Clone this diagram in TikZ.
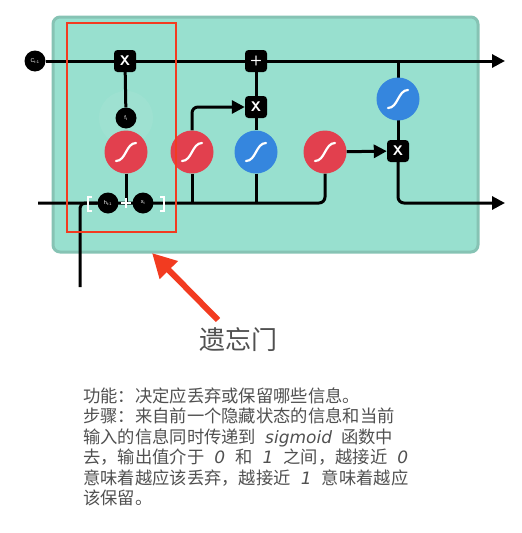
\documentclass[tikz,border=0pt]{standalone}
\usepackage{fontspec}
\setmainfont{Liberation Sans}
\newfontfamily\cjk{Noto Sans CJK SC}
\newfontfamily\hand{DejaVu Sans}
\usetikzlibrary{arrows.meta}
\pgfdeclarelayer{back}
\pgfdeclarelayer{lines}
\pgfsetlayers{back,lines,main}
\definecolor{teal1}{HTML}{98E0CF}
\definecolor{teal2}{HTML}{86C3B4}
\definecolor{sred}{HTML}{E2404E}
\definecolor{sblue}{HTML}{3586DE}
\definecolor{hred}{HTML}{F23B20}
\definecolor{txt}{HTML}{505050}
\newcommand\sigcurve[1]{\draw[white,line width=2.2pt,line cap=round]
  ([shift={(-10,9)}]#1.center) .. controls +(10,0) and +(-10,0) .. ([shift={(10,-9)}]#1.center);}
\newcommand\lat[1]{\hspace{9pt}{\hand\itshape\fontsize{17}{20}\selectfont #1}\hspace{9pt}}
\newcommand\dig[1]{\hspace{9pt}\makebox[13pt]{\hand\itshape\fontsize{17}{20}\selectfont #1}\hspace{9pt}}
\begin{document}
\begin{tikzpicture}[x=1pt,y=-1pt,
  op/.style={fill=black,rounded corners=3.5pt,minimum size=22pt,inner sep=0pt,text=white,
    font=\sffamily\bfseries\fontsize{14}{14}\selectfont},
  sigc/.style={circle,minimum size=43pt,inner sep=0pt},
  small/.style={circle,fill=black,minimum size=21pt,inner sep=0pt,text=white,
    font=\fontsize{5.5}{6}\selectfont},
  wire/.style={line width=3pt,black},
  tip/.style={-{Triangle[length=13pt,width=13pt]}},
  para/.style={anchor=base west,inner sep=0pt,text=txt,font=\cjk\fontsize{17.3}{20}\selectfont}]
\useasboundingbox (0,0) rectangle (522,533);
% teal cell
\begin{pgfonlayer}{back}
\draw[fill=teal1,draw=teal2,line width=3pt,rounded corners=7pt] (53,17) rectangle (478,252);
\fill[white,opacity=0.06] (126,118) circle (27);
\end{pgfonlayer}
% nodes
\node[small] (C) at (35,61) {C\textsubscript{t-1}};
\node[op] (x1) at (125,61) {X};
\node[op] (plus) at (256,61) {+};
\node[op] (x2) at (256,107) {X};
\node[small] (ft) at (126,118) {f\textsubscript{t}};
\node[sigc,fill=sred] (s1) at (126,152) {};
\node[sigc,fill=sred] (s2) at (192,152) {};
\node[sigc,fill=sblue] (b1) at (256,152) {};
\node[sigc,fill=sred] (s3) at (325,152) {};
\node[sigc,fill=sblue] (b2) at (398,99) {};
\node[op] (x3) at (398,151) {X};
\node[small] (hn) at (108,203) {h\textsubscript{t-1}};
\node[small] (xn) at (143,203) {x\textsubscript{t}};
\coordinate (cend) at (505,61);
\coordinate (hstart) at (38,203);
\coordinate (hend) at (505,203);
\coordinate (inp) at (80,287);
\coordinate (pl) at (126,203);
\sigcurve{s1}\sigcurve{s2}\sigcurve{b1}\sigcurve{s3}\sigcurve{b2}
% white plus and brackets
\draw[white,line width=2pt] ([xshift=-5]pl) -- ([xshift=5]pl) ([yshift=-5]pl) -- ([yshift=5]pl);
\draw[white,line width=2pt] (92,197) -- (88,197) -- (88,211) -- (92,211);
\draw[white,line width=2pt] (160,197) -- (164,197) -- (164,211) -- (160,211);
% wires
\begin{pgfonlayer}{lines}
\draw[wire,tip] (C) -- (cend);
\draw[wire] (x1) -- (ft);
\draw[wire] (s1) -- (pl);
\draw[wire,rounded corners=6pt] (hstart) -| (s3);
\draw[wire,rounded corners=5pt] (inp) |- (hn);
\draw[wire] (s2) -- (s2 |- hstart);
\draw[wire,tip,rounded corners=6pt] (s2) |- (x2);
\draw[wire] (plus) -- (x2) -- (b1);
\draw[wire] (b1) -- (b1 |- hstart);
\draw[wire] (b2 |- cend) -- (x3);
\draw[wire,tip] (s3) -- (x3);
\draw[wire,tip,rounded corners=6pt] (x3) |- (hend);
\end{pgfonlayer}
% highlight box and arrow
\node[draw=hred,line width=2pt,minimum width=109pt,minimum height=209pt,inner sep=0pt] (hl) at (121.5,127.5) {};
\node[anchor=base,inner sep=0pt,text=txt,font=\cjk\fontsize{26}{26}\selectfont] (lab) at (238,349) {遗忘门};
\coordinate (atail) at (218,320);
\coordinate (atip) at (152,253);
\draw[hred,line width=6pt,-{Triangle[length=24pt,width=24pt]}] (atail) -- (atip);
% paragraph
\node[para] (l1) at (83,402) {功能：决定应丢弃或保留哪些信息。};
\node[para] (l2) at (83,422.5) {步骤：来自前一个隐藏状态的信息和当前};
\node[para] (l3) at (83,443) {输入的信息同时传递到\lat{sigmoid}函数中};
\node[para] (l4) at (83,463.5) {去，输出值介于\dig{0}和\dig{1}之间，越接近\hspace{9pt}\makebox[13pt]{\hand\itshape\fontsize{17}{20}\selectfont 0}};
\node[para] (l5) at (83,484) {意味着越应该丢弃，越接近\dig{1}意味着越应};
\node[para] (l6) at (83,504.5) {该保留。};
\end{tikzpicture}
\end{document}
